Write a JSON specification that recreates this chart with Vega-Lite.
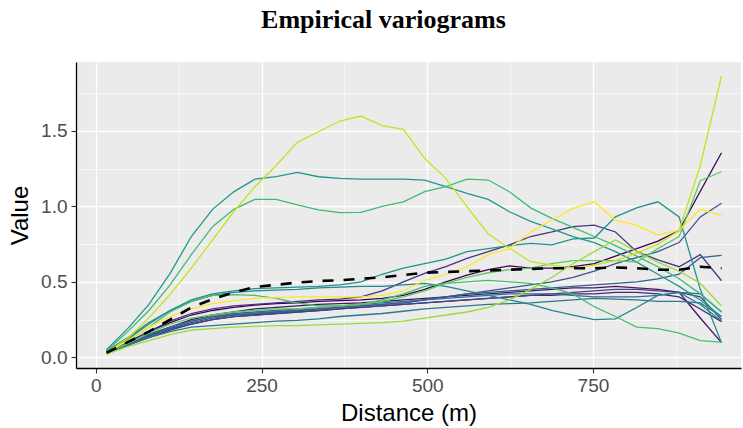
{
"$schema":"https://vega.github.io/schema/vega-lite/v6.json",
"width":665,"height":306,
"autosize":{"type":"none"},
"padding":{"left":76,"top":62,"right":2,"bottom":60},
"background":"white",
"config":{"view":{"fill":"#EBEBEB","stroke":null}},
"title":{"text":"Empirical variograms","font":"Liberation Serif","fontSize":26,"fontWeight":"bold","color":"#000000","anchor":"middle","dx":-25,"baseline":"alphabetic","offset":8},
"datasets":{
"vario":[
{"s":"s01","d":16,"v":0.03},{"s":"s01","d":48,"v":0.10},{"s":"s01","d":80,"v":0.17},{"s":"s01","d":112,"v":0.23},{"s":"s01","d":144,"v":0.28},{"s":"s01","d":176,"v":0.31},{"s":"s01","d":208,"v":0.33},{"s":"s01","d":240,"v":0.345},{"s":"s01","d":272,"v":0.355},{"s":"s01","d":304,"v":0.36},{"s":"s01","d":336,"v":0.37},{"s":"s01","d":368,"v":0.375},{"s":"s01","d":400,"v":0.38},{"s":"s01","d":432,"v":0.39},{"s":"s01","d":464,"v":0.41},{"s":"s01","d":496,"v":0.45},{"s":"s01","d":528,"v":0.50},{"s":"s01","d":560,"v":0.545},{"s":"s01","d":592,"v":0.58},{"s":"s01","d":624,"v":0.605},{"s":"s01","d":656,"v":0.59},{"s":"s01","d":688,"v":0.59},{"s":"s01","d":720,"v":0.60},{"s":"s01","d":752,"v":0.62},{"s":"s01","d":784,"v":0.67},{"s":"s01","d":816,"v":0.72},{"s":"s01","d":848,"v":0.77},{"s":"s01","d":880,"v":0.84},{"s":"s01","d":912,"v":1.10},{"s":"s01","d":944,"v":1.355},
{"s":"s02","d":16,"v":0.03},{"s":"s02","d":48,"v":0.09},{"s":"s02","d":80,"v":0.15},{"s":"s02","d":112,"v":0.20},{"s":"s02","d":144,"v":0.25},{"s":"s02","d":176,"v":0.28},{"s":"s02","d":208,"v":0.30},{"s":"s02","d":240,"v":0.32},{"s":"s02","d":272,"v":0.33},{"s":"s02","d":304,"v":0.34},{"s":"s02","d":336,"v":0.35},{"s":"s02","d":368,"v":0.355},{"s":"s02","d":400,"v":0.36},{"s":"s02","d":432,"v":0.37},{"s":"s02","d":464,"v":0.38},{"s":"s02","d":496,"v":0.39},{"s":"s02","d":528,"v":0.40},{"s":"s02","d":560,"v":0.41},{"s":"s02","d":592,"v":0.42},{"s":"s02","d":624,"v":0.43},{"s":"s02","d":656,"v":0.44},{"s":"s02","d":688,"v":0.45},{"s":"s02","d":720,"v":0.46},{"s":"s02","d":752,"v":0.46},{"s":"s02","d":784,"v":0.47},{"s":"s02","d":816,"v":0.46},{"s":"s02","d":848,"v":0.45},{"s":"s02","d":880,"v":0.43},{"s":"s02","d":912,"v":0.26},{"s":"s02","d":944,"v":0.097},
{"s":"s03","d":16,"v":0.03},{"s":"s03","d":48,"v":0.08},{"s":"s03","d":80,"v":0.13},{"s":"s03","d":112,"v":0.18},{"s":"s03","d":144,"v":0.22},{"s":"s03","d":176,"v":0.25},{"s":"s03","d":208,"v":0.27},{"s":"s03","d":240,"v":0.28},{"s":"s03","d":272,"v":0.29},{"s":"s03","d":304,"v":0.30},{"s":"s03","d":336,"v":0.31},{"s":"s03","d":368,"v":0.32},{"s":"s03","d":400,"v":0.33},{"s":"s03","d":432,"v":0.34},{"s":"s03","d":464,"v":0.35},{"s":"s03","d":496,"v":0.36},{"s":"s03","d":528,"v":0.37},{"s":"s03","d":560,"v":0.38},{"s":"s03","d":592,"v":0.39},{"s":"s03","d":624,"v":0.40},{"s":"s03","d":656,"v":0.41},{"s":"s03","d":688,"v":0.41},{"s":"s03","d":720,"v":0.42},{"s":"s03","d":752,"v":0.42},{"s":"s03","d":784,"v":0.43},{"s":"s03","d":816,"v":0.43},{"s":"s03","d":848,"v":0.42},{"s":"s03","d":880,"v":0.40},{"s":"s03","d":912,"v":0.32},{"s":"s03","d":944,"v":0.236},
{"s":"s04","d":16,"v":0.03},{"s":"s04","d":48,"v":0.09},{"s":"s04","d":80,"v":0.17},{"s":"s04","d":112,"v":0.24},{"s":"s04","d":144,"v":0.29},{"s":"s04","d":176,"v":0.32},{"s":"s04","d":208,"v":0.34},{"s":"s04","d":240,"v":0.35},{"s":"s04","d":272,"v":0.36},{"s":"s04","d":304,"v":0.37},{"s":"s04","d":336,"v":0.38},{"s":"s04","d":368,"v":0.385},{"s":"s04","d":400,"v":0.40},{"s":"s04","d":432,"v":0.44},{"s":"s04","d":464,"v":0.50},{"s":"s04","d":496,"v":0.556},{"s":"s04","d":528,"v":0.60},{"s":"s04","d":560,"v":0.655},{"s":"s04","d":592,"v":0.70},{"s":"s04","d":624,"v":0.745},{"s":"s04","d":656,"v":0.80},{"s":"s04","d":688,"v":0.83},{"s":"s04","d":720,"v":0.865},{"s":"s04","d":752,"v":0.875},{"s":"s04","d":784,"v":0.83},{"s":"s04","d":816,"v":0.70},{"s":"s04","d":848,"v":0.645},{"s":"s04","d":880,"v":0.60},{"s":"s04","d":912,"v":0.68},{"s":"s04","d":944,"v":0.507},
{"s":"s05","d":16,"v":0.03},{"s":"s05","d":48,"v":0.08},{"s":"s05","d":80,"v":0.14},{"s":"s05","d":112,"v":0.19},{"s":"s05","d":144,"v":0.22},{"s":"s05","d":176,"v":0.25},{"s":"s05","d":208,"v":0.27},{"s":"s05","d":240,"v":0.28},{"s":"s05","d":272,"v":0.29},{"s":"s05","d":304,"v":0.30},{"s":"s05","d":336,"v":0.31},{"s":"s05","d":368,"v":0.32},{"s":"s05","d":400,"v":0.33},{"s":"s05","d":432,"v":0.34},{"s":"s05","d":464,"v":0.35},{"s":"s05","d":496,"v":0.36},{"s":"s05","d":528,"v":0.37},{"s":"s05","d":560,"v":0.38},{"s":"s05","d":592,"v":0.39},{"s":"s05","d":624,"v":0.40},{"s":"s05","d":656,"v":0.41},{"s":"s05","d":688,"v":0.42},{"s":"s05","d":720,"v":0.43},{"s":"s05","d":752,"v":0.44},{"s":"s05","d":784,"v":0.45},{"s":"s05","d":816,"v":0.45},{"s":"s05","d":848,"v":0.44},{"s":"s05","d":880,"v":0.43},{"s":"s05","d":912,"v":0.40},{"s":"s05","d":944,"v":0.25},
{"s":"s06","d":16,"v":0.03},{"s":"s06","d":48,"v":0.08},{"s":"s06","d":80,"v":0.14},{"s":"s06","d":112,"v":0.19},{"s":"s06","d":144,"v":0.23},{"s":"s06","d":176,"v":0.26},{"s":"s06","d":208,"v":0.28},{"s":"s06","d":240,"v":0.29},{"s":"s06","d":272,"v":0.30},{"s":"s06","d":304,"v":0.31},{"s":"s06","d":336,"v":0.32},{"s":"s06","d":368,"v":0.33},{"s":"s06","d":400,"v":0.34},{"s":"s06","d":432,"v":0.35},{"s":"s06","d":464,"v":0.36},{"s":"s06","d":496,"v":0.38},{"s":"s06","d":528,"v":0.40},{"s":"s06","d":560,"v":0.42},{"s":"s06","d":592,"v":0.44},{"s":"s06","d":624,"v":0.46},{"s":"s06","d":656,"v":0.48},{"s":"s06","d":688,"v":0.50},{"s":"s06","d":720,"v":0.53},{"s":"s06","d":752,"v":0.57},{"s":"s06","d":784,"v":0.62},{"s":"s06","d":816,"v":0.66},{"s":"s06","d":848,"v":0.70},{"s":"s06","d":880,"v":0.76},{"s":"s06","d":912,"v":0.93},{"s":"s06","d":944,"v":1.02},
{"s":"s07","d":16,"v":0.03},{"s":"s07","d":48,"v":0.09},{"s":"s07","d":80,"v":0.15},{"s":"s07","d":112,"v":0.20},{"s":"s07","d":144,"v":0.24},{"s":"s07","d":176,"v":0.27},{"s":"s07","d":208,"v":0.28},{"s":"s07","d":240,"v":0.29},{"s":"s07","d":272,"v":0.30},{"s":"s07","d":304,"v":0.31},{"s":"s07","d":336,"v":0.32},{"s":"s07","d":368,"v":0.33},{"s":"s07","d":400,"v":0.34},{"s":"s07","d":432,"v":0.35},{"s":"s07","d":464,"v":0.36},{"s":"s07","d":496,"v":0.38},{"s":"s07","d":528,"v":0.40},{"s":"s07","d":560,"v":0.42},{"s":"s07","d":592,"v":0.43},{"s":"s07","d":624,"v":0.44},{"s":"s07","d":656,"v":0.45},{"s":"s07","d":688,"v":0.46},{"s":"s07","d":720,"v":0.47},{"s":"s07","d":752,"v":0.48},{"s":"s07","d":784,"v":0.49},{"s":"s07","d":816,"v":0.50},{"s":"s07","d":848,"v":0.52},{"s":"s07","d":880,"v":0.55},{"s":"s07","d":912,"v":0.66},{"s":"s07","d":944,"v":0.675},
{"s":"s08","d":16,"v":0.03},{"s":"s08","d":48,"v":0.09},{"s":"s08","d":80,"v":0.15},{"s":"s08","d":112,"v":0.20},{"s":"s08","d":144,"v":0.24},{"s":"s08","d":176,"v":0.27},{"s":"s08","d":208,"v":0.29},{"s":"s08","d":240,"v":0.30},{"s":"s08","d":272,"v":0.31},{"s":"s08","d":304,"v":0.32},{"s":"s08","d":336,"v":0.33},{"s":"s08","d":368,"v":0.34},{"s":"s08","d":400,"v":0.35},{"s":"s08","d":432,"v":0.36},{"s":"s08","d":464,"v":0.37},{"s":"s08","d":496,"v":0.38},{"s":"s08","d":528,"v":0.39},{"s":"s08","d":560,"v":0.40},{"s":"s08","d":592,"v":0.41},{"s":"s08","d":624,"v":0.42},{"s":"s08","d":656,"v":0.42},{"s":"s08","d":688,"v":0.42},{"s":"s08","d":720,"v":0.41},{"s":"s08","d":752,"v":0.40},{"s":"s08","d":784,"v":0.40},{"s":"s08","d":816,"v":0.40},{"s":"s08","d":848,"v":0.41},{"s":"s08","d":880,"v":0.43},{"s":"s08","d":912,"v":0.42},{"s":"s08","d":944,"v":0.30},
{"s":"s09","d":16,"v":0.03},{"s":"s09","d":48,"v":0.08},{"s":"s09","d":80,"v":0.13},{"s":"s09","d":112,"v":0.17},{"s":"s09","d":144,"v":0.20},{"s":"s09","d":176,"v":0.21},{"s":"s09","d":208,"v":0.22},{"s":"s09","d":240,"v":0.23},{"s":"s09","d":272,"v":0.24},{"s":"s09","d":304,"v":0.245},{"s":"s09","d":336,"v":0.255},{"s":"s09","d":368,"v":0.27},{"s":"s09","d":400,"v":0.28},{"s":"s09","d":432,"v":0.29},{"s":"s09","d":464,"v":0.305},{"s":"s09","d":496,"v":0.32},{"s":"s09","d":528,"v":0.33},{"s":"s09","d":560,"v":0.34},{"s":"s09","d":592,"v":0.35},{"s":"s09","d":624,"v":0.355},{"s":"s09","d":656,"v":0.36},{"s":"s09","d":688,"v":0.37},{"s":"s09","d":720,"v":0.38},{"s":"s09","d":752,"v":0.39},{"s":"s09","d":784,"v":0.385},{"s":"s09","d":816,"v":0.38},{"s":"s09","d":848,"v":0.37},{"s":"s09","d":880,"v":0.37},{"s":"s09","d":912,"v":0.36},{"s":"s09","d":944,"v":0.27},
{"s":"s10","d":16,"v":0.04},{"s":"s10","d":48,"v":0.12},{"s":"s10","d":80,"v":0.22},{"s":"s10","d":112,"v":0.31},{"s":"s10","d":144,"v":0.37},{"s":"s10","d":176,"v":0.41},{"s":"s10","d":208,"v":0.43},{"s":"s10","d":240,"v":0.44},{"s":"s10","d":272,"v":0.445},{"s":"s10","d":304,"v":0.45},{"s":"s10","d":336,"v":0.46},{"s":"s10","d":368,"v":0.465},{"s":"s10","d":400,"v":0.47},{"s":"s10","d":432,"v":0.47},{"s":"s10","d":464,"v":0.48},{"s":"s10","d":496,"v":0.49},{"s":"s10","d":528,"v":0.47},{"s":"s10","d":560,"v":0.44},{"s":"s10","d":592,"v":0.41},{"s":"s10","d":624,"v":0.38},{"s":"s10","d":656,"v":0.35},{"s":"s10","d":688,"v":0.31},{"s":"s10","d":720,"v":0.28},{"s":"s10","d":752,"v":0.25},{"s":"s10","d":784,"v":0.255},{"s":"s10","d":816,"v":0.33},{"s":"s10","d":848,"v":0.41},{"s":"s10","d":880,"v":0.43},{"s":"s10","d":912,"v":0.35},{"s":"s10","d":944,"v":0.24},
{"s":"s11","d":16,"v":0.04},{"s":"s11","d":48,"v":0.13},{"s":"s11","d":80,"v":0.23},{"s":"s11","d":112,"v":0.31},{"s":"s11","d":144,"v":0.38},{"s":"s11","d":176,"v":0.42},{"s":"s11","d":208,"v":0.44},{"s":"s11","d":240,"v":0.455},{"s":"s11","d":272,"v":0.46},{"s":"s11","d":304,"v":0.465},{"s":"s11","d":336,"v":0.47},{"s":"s11","d":368,"v":0.48},{"s":"s11","d":400,"v":0.50},{"s":"s11","d":432,"v":0.55},{"s":"s11","d":464,"v":0.59},{"s":"s11","d":496,"v":0.62},{"s":"s11","d":528,"v":0.65},{"s":"s11","d":560,"v":0.70},{"s":"s11","d":592,"v":0.72},{"s":"s11","d":624,"v":0.74},{"s":"s11","d":656,"v":0.755},{"s":"s11","d":688,"v":0.745},{"s":"s11","d":720,"v":0.785},{"s":"s11","d":752,"v":0.79},{"s":"s11","d":784,"v":0.93},{"s":"s11","d":816,"v":0.99},{"s":"s11","d":848,"v":1.03},{"s":"s11","d":880,"v":0.93},{"s":"s11","d":912,"v":0.45},{"s":"s11","d":944,"v":0.097},
{"s":"s12","d":16,"v":0.05},{"s":"s12","d":48,"v":0.19},{"s":"s12","d":80,"v":0.35},{"s":"s12","d":112,"v":0.556},{"s":"s12","d":144,"v":0.80},{"s":"s12","d":176,"v":0.98},{"s":"s12","d":208,"v":1.096},{"s":"s12","d":240,"v":1.18},{"s":"s12","d":272,"v":1.196},{"s":"s12","d":304,"v":1.225},{"s":"s12","d":336,"v":1.196},{"s":"s12","d":368,"v":1.185},{"s":"s12","d":400,"v":1.18},{"s":"s12","d":432,"v":1.18},{"s":"s12","d":464,"v":1.18},{"s":"s12","d":496,"v":1.174},{"s":"s12","d":528,"v":1.13},{"s":"s12","d":560,"v":1.086},{"s":"s12","d":592,"v":1.046},{"s":"s12","d":624,"v":0.964},{"s":"s12","d":656,"v":0.90},{"s":"s12","d":688,"v":0.85},{"s":"s12","d":720,"v":0.80},{"s":"s12","d":752,"v":0.76},{"s":"s12","d":784,"v":0.70},{"s":"s12","d":816,"v":0.63},{"s":"s12","d":848,"v":0.55},{"s":"s12","d":880,"v":0.47},{"s":"s12","d":912,"v":0.38},{"s":"s12","d":944,"v":0.27},
{"s":"s13","d":16,"v":0.04},{"s":"s13","d":48,"v":0.17},{"s":"s13","d":80,"v":0.31},{"s":"s13","d":112,"v":0.48},{"s":"s13","d":144,"v":0.68},{"s":"s13","d":176,"v":0.865},{"s":"s13","d":208,"v":0.98},{"s":"s13","d":240,"v":1.046},{"s":"s13","d":272,"v":1.046},{"s":"s13","d":304,"v":1.009},{"s":"s13","d":336,"v":0.976},{"s":"s13","d":368,"v":0.958},{"s":"s13","d":400,"v":0.96},{"s":"s13","d":432,"v":1.0},{"s":"s13","d":464,"v":1.03},{"s":"s13","d":496,"v":1.097},{"s":"s13","d":528,"v":1.13},{"s":"s13","d":560,"v":1.18},{"s":"s13","d":592,"v":1.174},{"s":"s13","d":624,"v":1.097},{"s":"s13","d":656,"v":0.99},{"s":"s13","d":688,"v":0.92},{"s":"s13","d":720,"v":0.86},{"s":"s13","d":752,"v":0.80},{"s":"s13","d":784,"v":0.74},{"s":"s13","d":816,"v":0.67},{"s":"s13","d":848,"v":0.60},{"s":"s13","d":880,"v":0.52},{"s":"s13","d":912,"v":0.42},{"s":"s13","d":944,"v":0.30},
{"s":"s14","d":16,"v":0.03},{"s":"s14","d":48,"v":0.11},{"s":"s14","d":80,"v":0.20},{"s":"s14","d":112,"v":0.30},{"s":"s14","d":144,"v":0.37},{"s":"s14","d":176,"v":0.41},{"s":"s14","d":208,"v":0.415},{"s":"s14","d":240,"v":0.41},{"s":"s14","d":272,"v":0.39},{"s":"s14","d":304,"v":0.36},{"s":"s14","d":336,"v":0.34},{"s":"s14","d":368,"v":0.34},{"s":"s14","d":400,"v":0.35},{"s":"s14","d":432,"v":0.38},{"s":"s14","d":464,"v":0.42},{"s":"s14","d":496,"v":0.47},{"s":"s14","d":528,"v":0.49},{"s":"s14","d":560,"v":0.50},{"s":"s14","d":592,"v":0.51},{"s":"s14","d":624,"v":0.50},{"s":"s14","d":656,"v":0.49},{"s":"s14","d":688,"v":0.46},{"s":"s14","d":720,"v":0.42},{"s":"s14","d":752,"v":0.335},{"s":"s14","d":784,"v":0.27},{"s":"s14","d":816,"v":0.20},{"s":"s14","d":848,"v":0.19},{"s":"s14","d":880,"v":0.16},{"s":"s14","d":912,"v":0.11},{"s":"s14","d":944,"v":0.10},
{"s":"s15","d":16,"v":0.03},{"s":"s15","d":48,"v":0.09},{"s":"s15","d":80,"v":0.16},{"s":"s15","d":112,"v":0.22},{"s":"s15","d":144,"v":0.26},{"s":"s15","d":176,"v":0.28},{"s":"s15","d":208,"v":0.30},{"s":"s15","d":240,"v":0.31},{"s":"s15","d":272,"v":0.32},{"s":"s15","d":304,"v":0.32},{"s":"s15","d":336,"v":0.33},{"s":"s15","d":368,"v":0.34},{"s":"s15","d":400,"v":0.35},{"s":"s15","d":432,"v":0.37},{"s":"s15","d":464,"v":0.40},{"s":"s15","d":496,"v":0.44},{"s":"s15","d":528,"v":0.49},{"s":"s15","d":560,"v":0.53},{"s":"s15","d":592,"v":0.56},{"s":"s15","d":624,"v":0.58},{"s":"s15","d":656,"v":0.59},{"s":"s15","d":688,"v":0.62},{"s":"s15","d":720,"v":0.64},{"s":"s15","d":752,"v":0.64},{"s":"s15","d":784,"v":0.64},{"s":"s15","d":816,"v":0.63},{"s":"s15","d":848,"v":0.72},{"s":"s15","d":880,"v":0.80},{"s":"s15","d":912,"v":1.17},{"s":"s15","d":944,"v":1.229},
{"s":"s16","d":16,"v":0.02},{"s":"s16","d":48,"v":0.07},{"s":"s16","d":80,"v":0.11},{"s":"s16","d":112,"v":0.15},{"s":"s16","d":144,"v":0.18},{"s":"s16","d":176,"v":0.19},{"s":"s16","d":208,"v":0.20},{"s":"s16","d":240,"v":0.205},{"s":"s16","d":272,"v":0.21},{"s":"s16","d":304,"v":0.21},{"s":"s16","d":336,"v":0.215},{"s":"s16","d":368,"v":0.22},{"s":"s16","d":400,"v":0.225},{"s":"s16","d":432,"v":0.23},{"s":"s16","d":464,"v":0.24},{"s":"s16","d":496,"v":0.26},{"s":"s16","d":528,"v":0.28},{"s":"s16","d":560,"v":0.30},{"s":"s16","d":592,"v":0.33},{"s":"s16","d":624,"v":0.38},{"s":"s16","d":656,"v":0.45},{"s":"s16","d":688,"v":0.53},{"s":"s16","d":720,"v":0.62},{"s":"s16","d":752,"v":0.70},{"s":"s16","d":784,"v":0.777},{"s":"s16","d":816,"v":0.70},{"s":"s16","d":848,"v":0.63},{"s":"s16","d":880,"v":0.57},{"s":"s16","d":912,"v":0.49},{"s":"s16","d":944,"v":0.34},
{"s":"s17","d":16,"v":0.03},{"s":"s17","d":48,"v":0.126},{"s":"s17","d":80,"v":0.26},{"s":"s17","d":112,"v":0.417},{"s":"s17","d":144,"v":0.59},{"s":"s17","d":176,"v":0.777},{"s":"s17","d":208,"v":0.964},{"s":"s17","d":240,"v":1.13},{"s":"s17","d":272,"v":1.27},{"s":"s17","d":304,"v":1.424},{"s":"s17","d":336,"v":1.494},{"s":"s17","d":368,"v":1.565},{"s":"s17","d":400,"v":1.598},{"s":"s17","d":432,"v":1.534},{"s":"s17","d":464,"v":1.51},{"s":"s17","d":496,"v":1.318},{"s":"s17","d":528,"v":1.185},{"s":"s17","d":560,"v":0.998},{"s":"s17","d":592,"v":0.817},{"s":"s17","d":624,"v":0.722},{"s":"s17","d":656,"v":0.633},{"s":"s17","d":688,"v":0.61},{"s":"s17","d":720,"v":0.59},{"s":"s17","d":752,"v":0.61},{"s":"s17","d":784,"v":0.64},{"s":"s17","d":816,"v":0.69},{"s":"s17","d":848,"v":0.75},{"s":"s17","d":880,"v":0.84},{"s":"s17","d":912,"v":1.27},{"s":"s17","d":944,"v":1.865},
{"s":"s18","d":16,"v":0.03},{"s":"s18","d":48,"v":0.11},{"s":"s18","d":80,"v":0.20},{"s":"s18","d":112,"v":0.27},{"s":"s18","d":144,"v":0.32},{"s":"s18","d":176,"v":0.355},{"s":"s18","d":208,"v":0.375},{"s":"s18","d":240,"v":0.39},{"s":"s18","d":272,"v":0.395},{"s":"s18","d":304,"v":0.40},{"s":"s18","d":336,"v":0.40},{"s":"s18","d":368,"v":0.40},{"s":"s18","d":400,"v":0.40},{"s":"s18","d":432,"v":0.41},{"s":"s18","d":464,"v":0.44},{"s":"s18","d":496,"v":0.51},{"s":"s18","d":528,"v":0.55},{"s":"s18","d":560,"v":0.60},{"s":"s18","d":592,"v":0.68},{"s":"s18","d":624,"v":0.72},{"s":"s18","d":656,"v":0.83},{"s":"s18","d":688,"v":0.909},{"s":"s18","d":720,"v":0.987},{"s":"s18","d":752,"v":1.03},{"s":"s18","d":784,"v":0.909},{"s":"s18","d":816,"v":0.876},{"s":"s18","d":848,"v":0.81},{"s":"s18","d":880,"v":0.843},{"s":"s18","d":912,"v":0.98},{"s":"s18","d":944,"v":0.94}
],
"avg":[
{"d":16,"v":0.03},{"d":48,"v":0.10},{"d":80,"v":0.17},{"d":112,"v":0.25},{"d":144,"v":0.33},{"d":176,"v":0.385},{"d":208,"v":0.43},{"d":240,"v":0.465},{"d":272,"v":0.48},{"d":304,"v":0.495},{"d":336,"v":0.505},{"d":368,"v":0.51},{"d":400,"v":0.52},{"d":432,"v":0.53},{"d":464,"v":0.545},{"d":496,"v":0.56},{"d":528,"v":0.565},{"d":560,"v":0.57},{"d":592,"v":0.575},{"d":624,"v":0.58},{"d":656,"v":0.585},{"d":688,"v":0.59},{"d":720,"v":0.59},{"d":752,"v":0.59},{"d":784,"v":0.595},{"d":816,"v":0.59},{"d":848,"v":0.58},{"d":880,"v":0.58},{"d":912,"v":0.60},{"d":944,"v":0.59}
]
},
"layer":[
{"data":{"name":"vario"},
 "mark":{"type":"line","strokeWidth":1.3,"clip":true},
 "encoding":{
  "x":{"field":"d","type":"quantitative","scale":{"domain":[-30,973.4],"nice":false,"zero":false},
   "axis":{"title":"Distance (m)","values":[0,125,250,375,500,625,750,875],
    "labelExpr":"datum.value % 250 === 0 ? datum.label : ''",
    "labelFont":"Liberation Sans","labelFontSize":19,"labelColor":"#4D4D4D","labelPadding":3,"labelOverlap":false,"labelFlush":false,
    "titleFont":"Liberation Sans","titleFontSize":24,"titleFontWeight":"normal","titleColor":"#000000","titlePadding":6,
    "domainColor":"#000000","domainWidth":1.3,
    "tickColor":"#333333","tickSize":5,"tickWidth":1.1,
    "tickOpacity":{"condition":{"test":"datum.value % 250 === 0","value":1},"value":0},
    "grid":true,"gridColor":"#FFFFFF",
    "gridWidth":{"condition":{"test":"datum.value % 250 === 0","value":1.3},"value":0.6}}},
  "y":{"field":"v","type":"quantitative","scale":{"domain":[-0.071,1.956],"nice":false,"zero":false},
   "axis":{"title":"Value","values":[0,0.25,0.5,0.75,1,1.25,1.5,1.75],"format":".1f",
    "labelExpr":"datum.value % 0.5 === 0 ? datum.label : ''",
    "labelFont":"Liberation Sans","labelFontSize":19,"labelColor":"#4D4D4D","labelPadding":4,"labelOverlap":false,"labelFlush":false,
    "titleFont":"Liberation Sans","titleFontSize":24,"titleFontWeight":"normal","titleColor":"#000000","titlePadding":8,
    "domainColor":"#000000","domainWidth":1.3,
    "tickColor":"#333333","tickSize":5,"tickWidth":1.1,
    "tickOpacity":{"condition":{"test":"datum.value % 0.5 === 0","value":1},"value":0},
    "grid":true,"gridColor":"#FFFFFF",
    "gridWidth":{"condition":{"test":"datum.value % 0.5 === 0","value":1.3},"value":0.6}}},
  "color":{"field":"s","type":"nominal","legend":null,
   "scale":{"domain":["s01","s02","s03","s04","s05","s06","s07","s08","s09","s10","s11","s12","s13","s14","s15","s16","s17","s18"],
    "range":["#440154","#481467","#482576","#463480","#414487","#3b528b","#355f8d","#2f6c8e","#2a788e","#25848e","#21918c","#1f988b","#3dbc74","#44bf70","#5ec962","#9bd93c","#c8e020","#fde725"]}}
 }},
{"data":{"name":"avg"},
 "mark":{"type":"line","color":"#000000","strokeWidth":2.6,"strokeDash":[11,10],"clip":true},
 "encoding":{"x":{"field":"d","type":"quantitative"},"y":{"field":"v","type":"quantitative"}}}
]
}
